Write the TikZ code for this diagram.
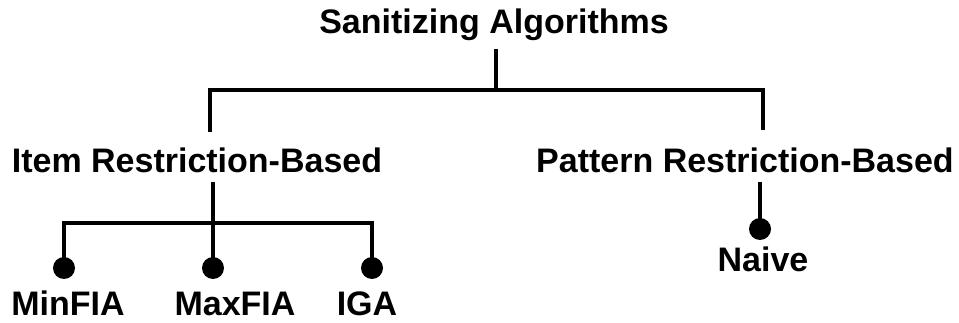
\documentclass[tikz,border=0pt]{standalone}
\usepackage{fontspec}
\setmainfont{Liberation Sans}
\begin{document}
\begin{tikzpicture}[x=1pt,y=-1pt,
  lbl/.style={font=\fontsize{34}{40}\selectfont\bfseries, inner sep=0pt, anchor=base},
  wire/.style={line width=3.5pt},
  dot/.style={circle, fill=black, draw=none, inner sep=0pt, minimum size=22pt}]
\useasboundingbox (0,0) rectangle (959,323);
% labels
\node[lbl] (root) at (494,34) {Sanitizing Algorithms};
\node[lbl] (item) at (197,173) {Item Restriction-Based};
\node[lbl] (pat) at (745,173) {Pattern Restriction-Based};
\node[lbl] (minf) at (68,316) {MinFIA};
\node[lbl] (maxf) at (235,316) {MaxFIA};
\node[lbl] (iga) at (367,316) {IGA};
\node[lbl] (naive) at (763,272) {Naive};
% dots
\node[dot] (d1) at (64,268) {};
\node[dot] (d2) at (213,268) {};
\node[dot] (d3) at (372,268) {};
\node[dot] (d4) at (760,229) {};
% junctions
\coordinate (rt) at (496,49);
\coordinate (rb) at (496,90);
\coordinate (bl) at (210,90);
\coordinate (br) at (763,90);
\coordinate (il) at (210,132);
\coordinate (pr) at (763,130);
\coordinate (id) at (213,182);
\coordinate (b1) at (64,223);
\coordinate (b3) at (372,223);
\coordinate (pd) at (760,182);
% connectors
\draw[wire] (rt) -- (rb);
\draw[wire] (il) -- (bl) -- (br) -- (pr);
\draw[wire] (id) -- (d2.center);
\draw[wire] (d1.center) -- (b1) -- (b3) -- (d3.center);
\draw[wire] (pd) -- (d4.center);
\end{tikzpicture}
\end{document}
